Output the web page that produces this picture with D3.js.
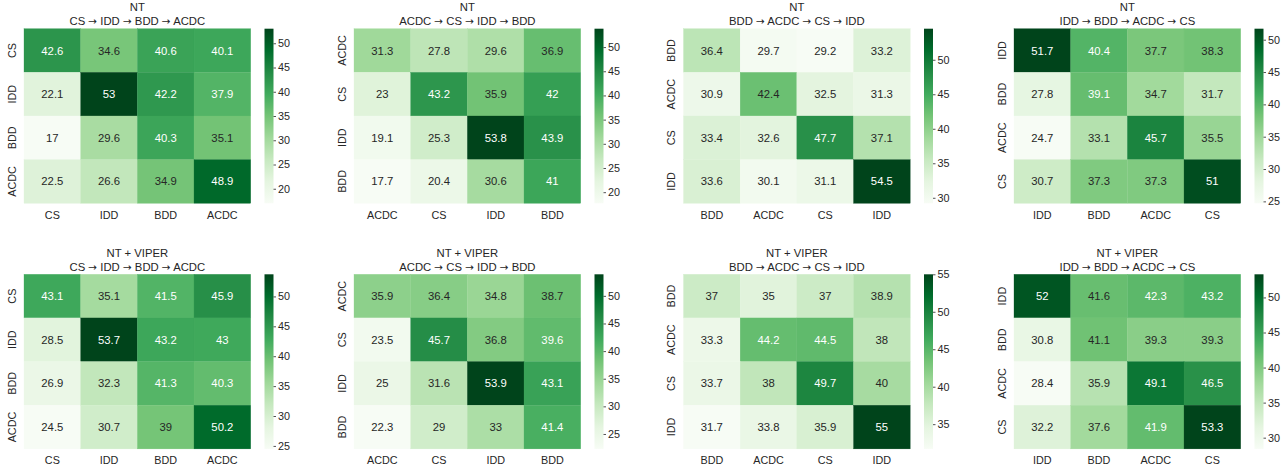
<!DOCTYPE html>
<html>
<head>
<meta charset="utf-8">
<script src="https://cdn.jsdelivr.net/npm/d3@7"></script>
<style>
  html, body { margin: 0; padding: 0; background: #ffffff; }
  svg { display: block; }
  text { font-family: "Liberation Sans", Arial, sans-serif; fill: #262626; }
</style>
</head>
<body>
<svg id="chart" width="1288" height="469"></svg>
<script>
// ---------- data ----------
const rowTitles = ["NT", "NT + VIPER"];
const orderLabels = [
  ["CS", "IDD", "BDD", "ACDC"],
  ["ACDC", "CS", "IDD", "BDD"],
  ["BDD", "ACDC", "CS", "IDD"],
  ["IDD", "BDD", "ACDC", "CS"]
];
const ntCsIddBddAcdc = [[42.6, 34.6, 40.6, 40.1], [22.1, 53, 42.2, 37.9], [17, 29.6, 40.3, 35.1], [22.5, 26.6, 34.9, 48.9]];
const ntAcdcCsIddBdd = [[31.3, 27.8, 29.6, 36.9], [23, 43.2, 35.9, 42], [19.1, 25.3, 53.8, 43.9], [17.7, 20.4, 30.6, 41]];
const ntBddAcdcCsIdd = [[36.4, 29.7, 29.2, 33.2], [30.9, 42.4, 32.5, 31.3], [33.4, 32.6, 47.7, 37.1], [33.6, 30.1, 31.1, 54.5]];
const ntIddBddAcdcCs = [[51.7, 40.4, 37.7, 38.3], [27.8, 39.1, 34.7, 31.7], [24.7, 33.1, 45.7, 35.5], [30.7, 37.3, 37.3, 51]];
const viperCsIddBddAcdc = [[43.1, 35.1, 41.5, 45.9], [28.5, 53.7, 43.2, 43], [26.9, 32.3, 41.3, 40.3], [24.5, 30.7, 39, 50.2]];
const viperAcdcCsIddBdd = [[35.9, 36.4, 34.8, 38.7], [23.5, 45.7, 36.8, 39.6], [25, 31.6, 53.9, 43.1], [22.3, 29, 33, 41.4]];
const viperBddAcdcCsIdd = [[37, 35, 37, 38.9], [33.3, 44.2, 44.5, 38], [33.7, 38, 49.7, 40], [31.7, 33.8, 35.9, 55]];
const viperIddBddAcdcCs = [[52, 41.6, 42.3, 43.2], [30.8, 41.1, 39.3, 39.3], [28.4, 35.9, 49.1, 46.5], [32.2, 37.6, 41.9, 53.3]];
const matrices = [
  [ntCsIddBddAcdc, ntAcdcCsIddBdd, ntBddAcdcCsIdd, ntIddBddAcdcCs],
  [viperCsIddBddAcdc, viperAcdcCsIddBdd, viperBddAcdcCsIdd, viperIddBddAcdcCs]
];
const greens = ["#f7fcf5", "#e5f5e0", "#c7e9c0", "#a1d99b", "#74c476", "#41ab5d", "#238b45", "#006d2c", "#00441b"];

// ---------- layout ----------
const panelLeft = [24, 354, 683.5, 1014];
const panelTop = [28.7, 274.3];
const hmW = 226.7, hmH = 174.6;
const cbOffset = 240.5, cbW = 9;

const svg = d3.select("#chart");
const cmapT = d3.scaleLinear()
  .domain(d3.range(greens.length).map(i => i / (greens.length - 1)))
  .range(greens).interpolate(d3.interpolateRgb);

function relLum(c) {
  const rgb = d3.rgb(c);
  const f = v => { v = v / 255; return v <= 0.03928 ? v / 12.92 : Math.pow((v + 0.055) / 1.055, 2.4); };
  return 0.2126 * f(rgb.r) + 0.7152 * f(rgb.g) + 0.0722 * f(rgb.b);
}

const defs = svg.append("defs");
const gradId = "cbgrad";
const grad = defs.append("linearGradient").attr("id", gradId)
  .attr("x1", 0).attr("y1", 1).attr("x2", 0).attr("y2", 0);
greens.forEach((c, i) => grad.append("stop").attr("offset", i / (greens.length - 1)).attr("stop-color", c));

matrices.forEach((row, r) => {
  row.forEach((mat, p) => {
    const labels = orderLabels[p];
    const left = panelLeft[p], top = panelTop[r];
    const g = svg.append("g").attr("transform", `translate(${left},${top})`);
    const flat = mat.flat();
    const vmin = d3.min(flat), vmax = d3.max(flat);
    const norm = d3.scaleLinear().domain([vmin, vmax]).range([0, 1]).clamp(true);
    const color = v => cmapT(norm(v));
    const x = d3.scaleBand().domain(labels).range([0, hmW]);
    const y = d3.scaleBand().domain(labels).range([0, hmH]);

    const cells = [];
    mat.forEach((vals, i) => vals.forEach((v, j) => cells.push({ r: labels[i], c: labels[j], v })));

    g.selectAll("rect.cell").data(cells).enter().append("rect")
      .attr("class", "cell")
      .attr("x", d => x(d.c)).attr("y", d => y(d.r))
      .attr("width", x.bandwidth()).attr("height", y.bandwidth())
      .attr("fill", d => color(d.v))
      .attr("stroke", d => color(d.v)).attr("stroke-width", 0.3);

    g.selectAll("text.ann").data(cells).enter().append("text")
      .attr("class", "ann")
      .attr("x", d => x(d.c) + x.bandwidth() / 2)
      .attr("y", d => y(d.r) + y.bandwidth() / 2)
      .attr("text-anchor", "middle").attr("dominant-baseline", "central")
      .style("font-size", "11.3px")
      .style("fill", d => relLum(color(d.v)) > 0.408 ? "#262626" : "#ffffff")
      .text(d => String(d.v));

    // x axis labels
    const xAxis = d3.axisBottom(x).tickSize(0).tickPadding(6);
    const xa = g.append("g").attr("transform", `translate(0,${hmH})`).call(xAxis);
    xa.select(".domain").remove();
    xa.selectAll("text").style("font-size", "10.8px").style("fill", "#262626")
      .attr("y", 11.7).attr("dy", "0.35em");

    // y axis labels (rotated)
    const ya = g.append("g").call(d3.axisLeft(y).tickSize(0));
    ya.select(".domain").remove();
    ya.selectAll("text").style("font-size", "10.8px").style("fill", "#262626")
      .attr("x", 0).attr("dy", 0)
      .attr("text-anchor", "middle").attr("dominant-baseline", "central")
      .attr("transform", "translate(-12.3,0) rotate(-90)");

    // title
    const tg = g.append("g").attr("transform", `translate(${hmW / 2},0)`);
    tg.append("text").attr("y", -21.8).attr("text-anchor", "middle").attr("dominant-baseline", "central")
      .style("font-size", "11.3px").text(rowTitles[r]);
    const t2 = tg.append("text").attr("y", -7.8).attr("text-anchor", "middle").attr("dominant-baseline", "central")
      .style("font-size", "11.3px");
    labels.forEach((lab, k) => {
      if (k > 0) {
        t2.append("tspan").text(" ");
        t2.append("tspan").style("font-family", "'DejaVu Sans', sans-serif").style("font-size", "10.5px").text("\u2192");
        t2.append("tspan").text(" ");
      }
      t2.append("tspan").text(lab);
    });

    // colorbar
    const cb = g.append("g").attr("transform", `translate(${cbOffset},0)`);
    cb.append("rect").attr("width", cbW).attr("height", hmH).attr("fill", `url(#${gradId})`);
    const cbScale = d3.scaleLinear().domain([vmin, vmax]).range([hmH, 0]);
    const cbAxis = d3.axisRight(cbScale).ticks(6).tickSize(2.5).tickPadding(2).tickFormat(d3.format("d"));
    const ca = cb.append("g").attr("transform", `translate(${cbW},0)`).call(cbAxis);
    ca.select(".domain").remove();
    ca.selectAll("line").attr("stroke", "#262626").attr("stroke-width", 0.8);
    ca.selectAll("text").style("font-size", "10.8px").style("fill", "#262626");
  });
});
</script>
</body>
</html>
